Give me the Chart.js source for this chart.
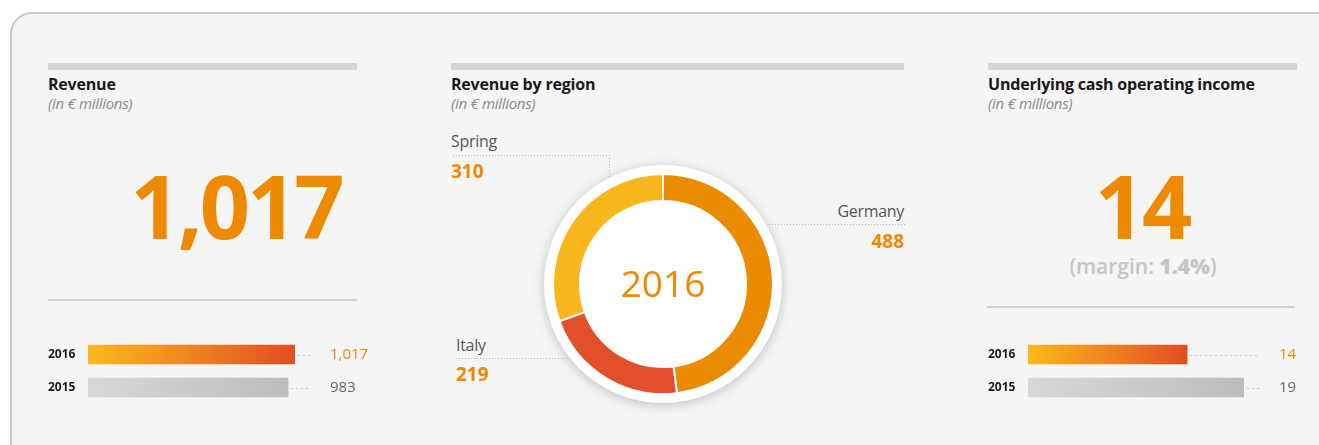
<!DOCTYPE html>
<html>
<head>
<meta charset="utf-8">
<script src="https://cdn.jsdelivr.net/npm/chart.js@4.4.1/dist/chart.umd.min.js"></script>
<style>
  body { margin: 0; width: 1319px; height: 445px; overflow: hidden; position: relative; background: #fff; font-family: "Open Sans", sans-serif; }
  .card { position: absolute; left: 10px; top: 12px; width: 1330px; height: 480px; box-sizing: border-box; border: 2px solid #c9c9c9; border-radius: 22px; background: #f5f5f5; }
  .abs { position: absolute; line-height: 1; white-space: nowrap; }
  .topbar { position: absolute; top: 63px; height: 7px; background: #d6d6d6; }
  .sep { position: absolute; height: 2px; background: #d0d0d0; }
  .title { font-size: 16px; font-weight: 700; color: #1a1a1a; top: 76px; letter-spacing: -0.2px; }
  .sub { font-size: 15px; font-style: italic; color: #8a8a8a; top: 96px; letter-spacing: -0.3px; }
  .big { font-size: 88px; font-weight: 700; color: #ee8a00; top: 161px; letter-spacing: -3px; transform: translateX(-50%); }
  .margin { font-size: 21px; font-weight: 600; color: #c6c6c6; top: 256px; transform: translateX(-50%); }
  .rname { font-size: 16px; color: #555; letter-spacing: -0.3px; }
  .rval { font-size: 19px; font-weight: 700; color: #ee8a00; }
  canvas { position: absolute; }
</style>
</head>
<body>
<div class="card"></div>

<div class="topbar" style="left:48px;width:309px"></div>
<div class="topbar" style="left:451px;width:453px"></div>
<div class="topbar" style="left:988px;width:309px"></div>

<div class="abs title" style="left:48px">Revenue</div>
<div class="abs sub" style="left:48px">(in € millions)</div>
<div class="abs title" style="left:451px">Revenue by region</div>
<div class="abs sub" style="left:451px">(in € millions)</div>
<div class="abs title" style="left:988px">Underlying cash operating income</div>
<div class="abs sub" style="left:988px">(in € millions)</div>

<div class="abs big" id="bigRevenue" style="left:236px"></div>
<div class="abs big" id="bigIncome" style="left:1142px"></div>
<div class="abs margin" id="marginText" style="left:1143px"></div>

<div class="sep" style="left:48px;top:299px;width:309px"></div>
<div class="sep" style="left:987px;top:306px;width:308px"></div>

<div class="abs rname" style="left:451px;top:133px">Spring</div>
<div class="abs rval" id="valSpring" style="left:451px;top:162px"></div>
<div class="abs rname" style="right:415px;top:203px">Germany</div>
<div class="abs rval" id="valGermany" style="right:415px;top:232px"></div>
<div class="abs rname" style="left:456px;top:337px">Italy</div>
<div class="abs rval" id="valItaly" style="left:456px;top:365px"></div>

<canvas id="revenueBars" width="352" height="66" style="left:48px;top:338px"></canvas>
<canvas id="regionDonut" width="475" height="320" style="left:440px;top:124px"></canvas>
<canvas id="incomeBars" width="331" height="66" style="left:988px;top:338px"></canvas>

<script>
// data
const barYears = ["2016", "2015"];
const revenueValues = [1017, 983];
const incomeValues = [14, 19];

const regionNames = ["Germany", "Italy", "Spring"];
const regionValues = [488, 219, 310];
const regionColors = ["#eb8c00", "#e1502a", "#f9b61d"];

const orange = "#ee8a00";
const fontFamily = "'Open Sans', sans-serif";
const fmt = v => v.toLocaleString("en-US");

// html text bits
document.getElementById("bigRevenue").textContent = fmt(revenueValues[0]);
document.getElementById("bigIncome").textContent = fmt(incomeValues[0]);
const marginPct = (incomeValues[0] / revenueValues[0] * 100).toFixed(1);
document.getElementById("marginText").innerHTML = "(margin: <b>" + marginPct + "%</b>)";
regionNames.forEach((name, i) => {
  document.getElementById("val" + name).textContent = fmt(regionValues[i]);
});

// gradient for each bar, from its base to its end
const hotStops = ["#fbb91d", "#e34d22"];
const greyStops = ["#d8d8d8", "#bcbcbc"];

function barFill(context) {
  const chart = context.chart;
  if (!chart.chartArea) return greyStops[1];
  const xs = chart.scales.x;
  const x0 = xs.getPixelForValue(0);
  const x1 = xs.getPixelForValue(context.raw);
  const g = chart.ctx.createLinearGradient(x0, 0, x1, 0);
  const stops = context.dataIndex === 0 ? hotStops : greyStops;
  g.addColorStop(0, stops[0]);
  g.addColorStop(1, stops[1]);
  return g;
}

// dotted leader + value text after each bar
const barLabels = {
  id: "barLabels",
  afterDatasetsDraw(chart) {
    const ctx = chart.ctx;
    const area = chart.chartArea;
    const meta = chart.getDatasetMeta(0);
    ctx.save();
    meta.data.forEach((bar, i) => {
      ctx.strokeStyle = "#c4c4c4";
      ctx.lineWidth = 1;
      ctx.setLineDash([2, 3]);
      ctx.beginPath();
      ctx.moveTo(bar.x + 3, Math.round(bar.y) + 0.5);
      ctx.lineTo(area.right + 16, Math.round(bar.y) + 0.5);
      ctx.stroke();
      ctx.setLineDash([]);
      ctx.fillStyle = i === 0 ? orange : "#666";
      ctx.font = "15px " + fontFamily;
      ctx.textBaseline = "middle";
      ctx.textAlign = "left";
      ctx.fillText(fmt(chart.data.datasets[0].data[i]), area.right + 35, bar.y);
    });
    ctx.restore();
  }
};

function makeBars(canvasId, values, padRight) {
  return new Chart(document.getElementById(canvasId), {
    type: "bar",
    data: {
      labels: barYears,
      datasets: [{
        data: values,
        backgroundColor: barFill,
        borderWidth: 0,
        barThickness: 19
      }]
    },
    options: {
      indexAxis: "y",
      responsive: false,
      animation: false,
      devicePixelRatio: 1,
      events: [],
      layout: { padding: { left: 0, right: padRight, top: 0, bottom: 0 } },
      plugins: { legend: { display: false }, tooltip: { enabled: false } },
      scales: {
        x: { display: false, min: 0, max: Math.max(...values) },
        y: {
          grid: { display: false },
          border: { display: false },
          afterFit(scale) {
            scale.width = 40;
            scale.paddingTop = 0;
            scale.paddingBottom = 0;
          },
          ticks: {
            color: "#1a1a1a",
            crossAlign: "far",
            padding: 0,
            font: { family: fontFamily, size: 12, weight: "bold" }
          }
        }
      }
    },
    plugins: [barLabels]
  });
}

makeBars("revenueBars", revenueValues, 105);
makeBars("incomeBars", incomeValues, 75);

// donut: white disc with shadow, center text, dotted leaders to the labels
const canvasOrigin = { x: 440, y: 124 };
const leaders = [
  { kind: "elbow", fromX: 453, y: 155, elbowX: 609 },  // Spring
  { kind: "flat", fromX: 905, y: 224 },                // Germany
  { kind: "flat", fromX: 456, y: 358 }                 // Italy
];

const donutDecor = {
  id: "donutDecor",
  beforeDatasetsDraw(chart) {
    const arc = chart.getDatasetMeta(0).data[0];
    const ctx = chart.ctx;
    ctx.save();
    ctx.shadowColor = "rgba(0,0,0,0.22)";
    ctx.shadowBlur = 12;
    ctx.shadowOffsetY = 2;
    ctx.fillStyle = "#fff";
    ctx.beginPath();
    ctx.arc(arc.x, arc.y, arc.outerRadius + 9, 0, Math.PI * 2);
    ctx.fill();
    ctx.restore();
  },
  afterDatasetsDraw(chart) {
    const arc = chart.getDatasetMeta(0).data[0];
    const ctx = chart.ctx;
    const R = arc.outerRadius + 9;
    const cx = arc.x, cy = arc.y;
    ctx.save();
    ctx.strokeStyle = "#b8b8b8";
    ctx.lineWidth = 1;
    ctx.setLineDash([1, 2]);
    leaders.forEach(l => {
      const y = l.y - canvasOrigin.y + 0.5;
      const fx = l.fromX - canvasOrigin.x;
      ctx.beginPath();
      if (l.kind === "elbow") {
        const ex = l.elbowX - canvasOrigin.x + 0.5;
        const dy = Math.sqrt(R * R - (ex - cx) * (ex - cx));
        ctx.moveTo(fx, y);
        ctx.lineTo(ex, y);
        ctx.lineTo(ex, cy - dy);
      } else {
        const dx = Math.sqrt(R * R - (y - cy) * (y - cy));
        const edge = fx > cx ? cx + dx : cx - dx;
        ctx.moveTo(fx, y);
        ctx.lineTo(edge, y);
      }
      ctx.stroke();
    });
    ctx.setLineDash([]);
    ctx.fillStyle = orange;
    ctx.font = "37px " + fontFamily;
    ctx.textAlign = "center";
    ctx.textBaseline = "middle";
    ctx.fillText("2016", cx, cy + 2);
    ctx.restore();
  }
};

new Chart(document.getElementById("regionDonut"), {
  type: "doughnut",
  data: {
    labels: regionNames,
    datasets: [{
      data: regionValues,
      backgroundColor: regionColors,
      borderColor: "#fff",
      borderWidth: 2
    }]
  },
  options: {
    responsive: false,
    animation: false,
    devicePixelRatio: 1,
    events: [],
    radius: 110,
    cutout: "75.5%",
    layout: { padding: { left: 0, right: 29, top: 0, bottom: 0 } },
    plugins: { legend: { display: false }, tooltip: { enabled: false } }
  },
  plugins: [donutDecor]
});
</script>
</body>
</html>
